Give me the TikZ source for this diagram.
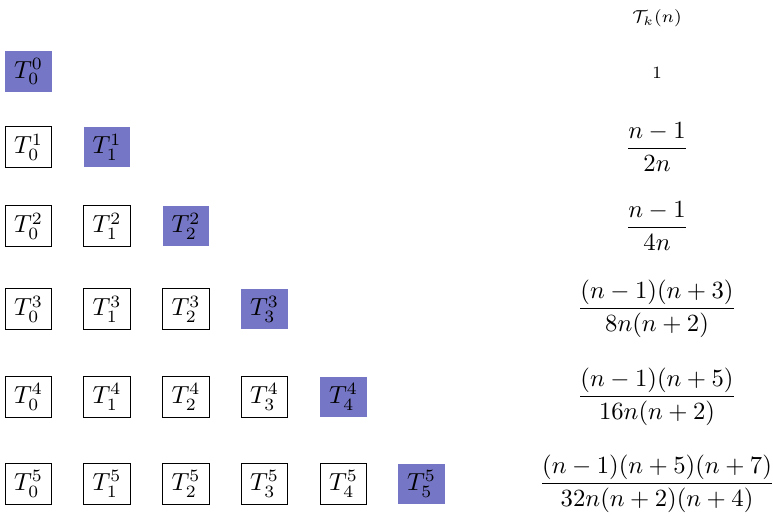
\documentclass[tikz,border=0pt]{standalone}
\usepackage{amsmath}
\usetikzlibrary{positioning}
\definecolor{diagblue}{RGB}{118,118,198}

\begin{document}
\begin{tikzpicture}[
    cell/.style={draw, line width=0.4pt, minimum width=0.66cm, minimum height=0.58cm, inner sep=0pt},
    diagcell/.style={cell, fill=diagblue, draw=none},
    formula/.style={inner sep=0pt},
]
\useasboundingbox (0,0) rectangle (11.0,-7.357);

%% Header
\node[formula, font=\scriptsize] (tk) at (9.35, -0.26) {$\mathcal{T}_k(n)$};

%% Row 0
\node[diagcell] (t00) at (0.406, -1.017) {$T_0^0$};
\node[formula, font=\scriptsize] (f0) at (9.35, -1.04) {$1$};

%% Row 1
\node[cell] (t10) at (0.406, -2.092) {$T_0^1$};
\node[diagcell] (t11) at (1.523, -2.092) {$T_1^1$};
\node[formula] (f1) at (9.35, -2.092) {$\dfrac{n-1}{2n}$};

%% Row 2
\node[cell] (t20) at (0.406, -3.216) {$T_0^2$};
\node[cell] (t21) at (1.523, -3.216) {$T_1^2$};
\node[diagcell] (t22) at (2.647, -3.216) {$T_2^2$};
\node[formula] (f2) at (9.35, -3.216) {$\dfrac{n-1}{4n}$};

%% Row 3
\node[cell] (t30) at (0.406, -4.397) {$T_0^3$};
\node[cell] (t31) at (1.523, -4.397) {$T_1^3$};
\node[cell] (t32) at (2.647, -4.397) {$T_2^3$};
\node[diagcell] (t33) at (3.764, -4.397) {$T_3^3$};
\node[formula] (f3) at (9.35, -4.397) {$\dfrac{(n-1)(n+3)}{8n(n+2)}$};

%% Row 4
\node[cell] (t40) at (0.406, -5.649) {$T_0^4$};
\node[cell] (t41) at (1.523, -5.649) {$T_1^4$};
\node[cell] (t42) at (2.647, -5.649) {$T_2^4$};
\node[cell] (t43) at (3.764, -5.649) {$T_3^4$};
\node[diagcell] (t44) at (4.888, -5.649) {$T_4^4$};
\node[formula] (f4) at (9.35, -5.649) {$\dfrac{(n-1)(n+5)}{16n(n+2)}$};

%% Row 5
\node[cell] (t50) at (0.406, -6.887) {$T_0^5$};
\node[cell] (t51) at (1.523, -6.887) {$T_1^5$};
\node[cell] (t52) at (2.647, -6.887) {$T_2^5$};
\node[cell] (t53) at (3.764, -6.887) {$T_3^5$};
\node[cell] (t54) at (4.888, -6.887) {$T_4^5$};
\node[diagcell] (t55) at (5.998, -6.887) {$T_5^5$};
\node[formula] (f5) at (9.35, -6.887) {$\dfrac{(n-1)(n+5)(n+7)}{32n(n+2)(n+4)}$};

\end{tikzpicture}
\end{document}
